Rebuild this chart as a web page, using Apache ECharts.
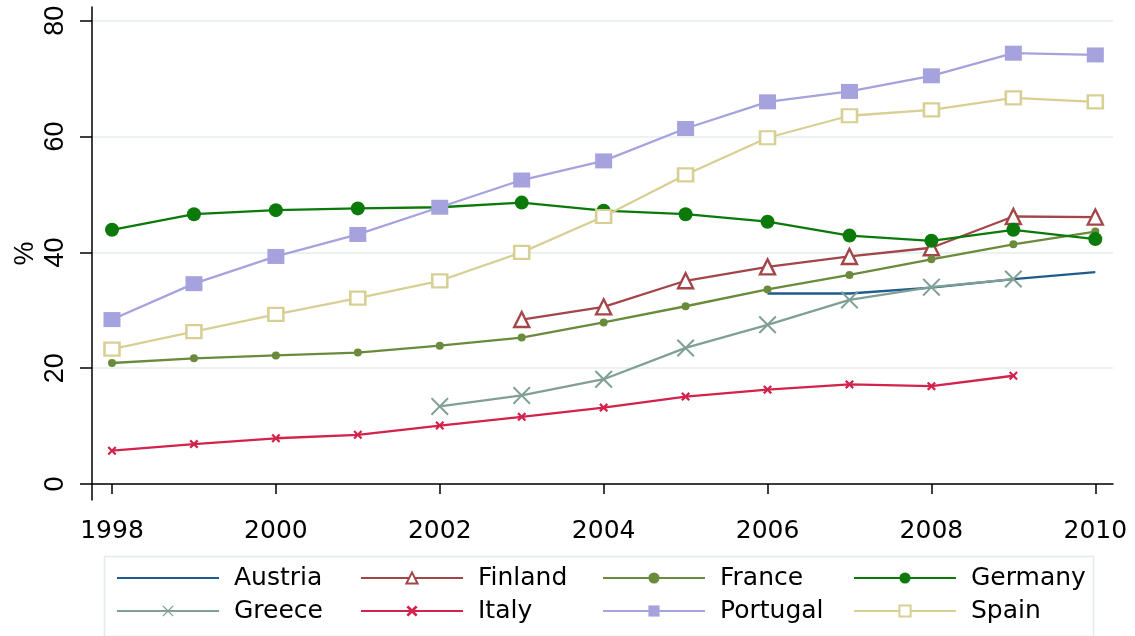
<!DOCTYPE html>
<html>
<head>
<meta charset="utf-8">
<script src="https://cdn.jsdelivr.net/npm/echarts@6/dist/echarts.min.js"></script>
<style>
  html, body { margin: 0; padding: 0; background: #fff; }
  #chart { width: 1135px; height: 636px; }
</style>
</head>
<body>
<div id="chart"></div>
<script>
// Share (%) by country, 1998-2010
const years = [1998, 1999, 2000, 2001, 2002, 2003, 2004, 2005, 2006, 2007, 2008, 2009, 2010];
const xTicks = [1998, 2000, 2002, 2004, 2006, 2008, 2010];
const yTicks = [0, 20, 40, 60, 80];

const austria  = [null, null, null, null, null, null, null, null, 32.9, 32.9, 33.9, 35.4, 36.6];
const finland  = [null, null, null, null, null, 28.4, 30.6, 35.1, 37.5, 39.3, 40.8, 46.2, 46.1];
const france   = [20.9, 21.7, 22.2, 22.7, 23.9, 25.3, 27.9, 30.7, 33.6, 36.1, 38.8, 41.4, 43.6];
const germany  = [43.9, 46.6, 47.3, 47.6, 47.8, 48.6, 47.2, 46.6, 45.3, 42.9, 42.0, 43.9, 42.3];
const greece   = [null, null, null, null, 13.4, 15.3, 18.1, 23.5, 27.5, 31.8, 34.0, 35.4, null];
const italy    = [5.75, 6.9, 7.9, 8.5, 10.1, 11.6, 13.2, 15.1, 16.3, 17.2, 16.9, 18.7, null];
const portugal = [28.4, 34.6, 39.3, 43.1, 47.8, 52.5, 55.8, 61.4, 66.0, 67.8, 70.5, 74.4, 74.1];
const spain    = [23.3, 26.3, 29.3, 32.1, 35.1, 40.0, 46.2, 53.4, 59.8, 63.6, 64.6, 66.7, 66.0];

const pairs = vals => years.map((y, i) => [y, vals[i]]);

// filled X-shaped markers (thin and thick)
const xThin  = 'path://M0,1.6 L1.6,0 L10,8.4 L18.4,0 L20,1.6 L11.6,10 L20,18.4 L18.4,20 L10,11.6 L1.6,20 L0,18.4 L8.4,10 Z';
const xThick = 'path://M0,3.5 L3.5,0 L10,6.5 L16.5,0 L20,3.5 L13.5,10 L20,16.5 L16.5,20 L10,13.5 L3.5,20 L0,16.5 L6.5,10 Z';
const plainLine = 'path://M0,0 L100,0 L100,2.2 L0,2.2 Z';

function line(name, vals, color, symbol, size, hollow) {
  return {
    name, type: 'line', data: pairs(vals),
    symbol, symbolSize: size, showSymbol: symbol !== 'none',
    connectNulls: false, animation: false,
    lineStyle: { color, width: 2.3 },
    itemStyle: hollow
      ? { color: '#ffffff', borderColor: color, borderWidth: 2.4 }
      : { color, borderWidth: 0 },
    emphasis: { disabled: true }
  };
}

const series = [
  line('Austria',  austria,  '#1f5b8c', 'none', 0, false),
  line('Finland',  finland,  '#a3464a', 'triangle', 15, true),
  line('France',   france,   '#6a8a3c', 'circle', 8, false),
  line('Germany',  germany,  '#0b7a0b', 'circle', 14, false),
  line('Greece',   greece,   '#80a096', xThin, 18, false),
  line('Italy',    italy,    '#d3224c', xThick, 9, false),
  line('Portugal', portugal, '#a6a2de', 'rect', [17, 15], false),
  line('Spain',    spain,    '#d8cf95', 'rect', [15, 13], true)
];

const fontFam = '"DejaVu Sans", sans-serif';
const armFam = '"Liberation Sans", Arial, sans-serif';
function legendCol(left, names) {
  return {
    orient: 'vertical', left, top: 565, padding: 0,
    itemWidth: 102, itemHeight: 14, itemGap: 7,
    selectedMode: false,
    data: names.map(n => n === 'Austria' ? { name: n, icon: plainLine } : { name: n }),
    textStyle: { color: '#000', fontSize: 25, fontFamily: fontFam, lineHeight: 26, padding: [0, 0, 0, 10] }
  };
}

const chart = echarts.init(document.getElementById('chart'), null, { renderer: 'canvas' });
chart.setOption({
  backgroundColor: '#ffffff',
  animation: false,
  grid: { left: 92, right: 22, top: 7, bottom: 136, containLabel: false, outerBoundsMode: 'none' },
  xAxis: {
    type: 'value', min: 1997.756, max: 2010.216,
    axisLine: { show: true, lineStyle: { color: '#000', width: 1.5 } },
    axisTick: { show: true, length: 10, customValues: xTicks, lineStyle: { color: '#000', width: 1.5 } },
    axisLabel: {
      customValues: xTicks, formatter: v => String(v), margin: 19,
      color: '#000', fontSize: 25, fontFamily: fontFam
    },
    splitLine: { show: false }
  },
  yAxis: {
    type: 'value', min: -2.76, max: 82.38,
    name: '%', nameLocation: 'middle', nameRotate: 90, nameGap: 53, nameMoveOverlap: false,
    nameTextStyle: { color: '#000', fontSize: 27, fontFamily: armFam },
    axisLine: { show: true, lineStyle: { color: '#000', width: 1.5 } },
    axisTick: { show: true, length: 12, customValues: yTicks, lineStyle: { color: '#000', width: 1.5 } },
    axisLabel: {
      customValues: yTicks, rotate: 90, margin: 26, lineHeight: 20,
      color: '#000', fontSize: 27, fontFamily: armFam
    },
    splitLine: { show: true, lineStyle: { color: '#e6eeee', width: 1.5 } }
  },
  legend: [
    legendCol(116, ['Austria', 'Greece']),
    legendCol(360, ['Finland', 'Italy']),
    legendCol(602, ['France', 'Portugal']),
    legendCol(853, ['Germany', 'Spain'])
  ],
  graphic: [{
    type: 'rect', left: 102, top: 554, silent: true, z: -1,
    shape: { width: 989, height: 80 },
    style: { fill: 'none', stroke: '#e3ebeb', lineWidth: 1.5 }
  }],
  series
});
</script>
</body>
</html>
